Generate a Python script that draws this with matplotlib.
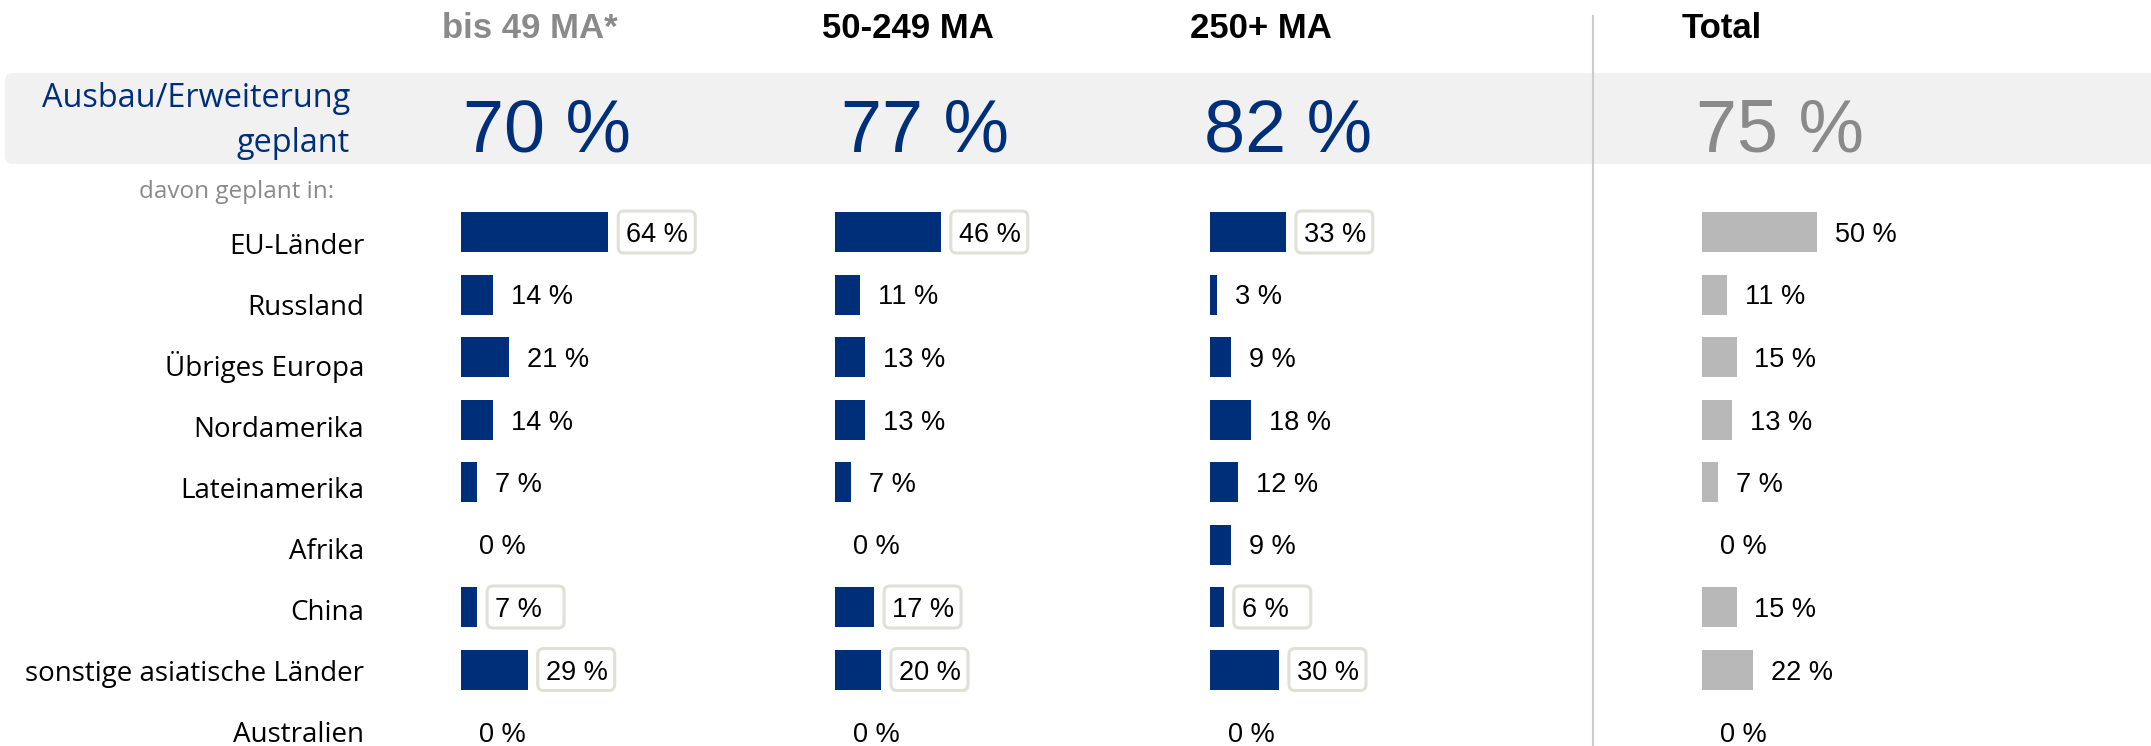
import matplotlib
matplotlib.use("Agg")
import matplotlib.pyplot as plt
from matplotlib.patches import FancyBboxPatch
import numpy as np

# Data
groups = ["bis 49 MA*", "50-249 MA", "250+ MA", "Total"]
headline = [70, 77, 82, 75]
categories = ["EU-Länder", "Russland", "Übriges Europa", "Nordamerika",
              "Lateinamerika", "Afrika", "China",
              "sonstige asiatische Länder", "Australien"]
small = [64, 14, 21, 14, 7, 0, 7, 29, 0]
medium = [46, 11, 13, 13, 7, 0, 17, 20, 0]
large = [33, 3, 9, 18, 12, 9, 6, 30, 0]
total = [50, 11, 15, 13, 7, 0, 15, 22, 0]
boxed = ["EU-Länder", "China", "sonstige asiatische Länder"]

NAVY = "#002f7a"
GREY_BAR = "#b8b8b8"
GREY_TXT = "#8a8a8a"
BAND = "#f1f1f1"
BOX_EDGE = "#e0e0d6"

SANS = ["Liberation Sans", "DejaVu Sans"]
LABEL_FONT = ["Open Sans", "DejaVu Sans"]


def main():
    W, H = 2151, 746
    fig = plt.figure(figsize=(W / 100, H / 100), dpi=100)
    ax = fig.add_axes([0, 0, 1, 1])
    ax.set_xlim(0, W)
    ax.set_ylim(H, 0)
    ax.axis("off")

    # layout (pixels)
    starts = [461, 835, 1210, 1702]
    head_x = [442, 822, 1190, 1682]
    big_x = [463, 841, 1204, 1696]
    px_per_pct = 2.3
    rows = 232 + 62.5 * np.arange(len(categories))
    label_rows = 245 + 61 * np.arange(len(categories))

    # grey band
    band = FancyBboxPatch((5, 73), W + 20, 91,
                          boxstyle="round,pad=0,rounding_size=8",
                          facecolor=BAND, edgecolor="none", zorder=0)
    ax.add_patch(band)

    # divider before Total
    ax.plot([1593, 1593], [16, H], color="#cccccc", lw=1.5, zorder=1)

    # headers
    for i, g in enumerate(groups):
        ax.text(head_x[i], 38, g, ha="left", va="baseline",
                fontsize=25, fontweight="bold", family=SANS,
                color=GREY_TXT if i == 0 else "black")

    # headline numbers
    for i, v in enumerate(headline):
        ax.text(big_x[i], 152, f"{v} %", ha="left", va="baseline",
                fontsize=53, family=SANS,
                color=GREY_TXT if i == 3 else NAVY, zorder=2)

    ax.text(350, 107, "Ausbau/Erweiterung", ha="right", va="baseline",
            fontsize=23.4, family=LABEL_FONT, color=NAVY)
    ax.text(350, 152, "geplant", ha="right", va="baseline",
            fontsize=23.4, family=LABEL_FONT, color=NAVY)
    ax.text(334, 198, "davon geplant in:", ha="right", va="baseline",
            fontsize=17.5, family=LABEL_FONT, color=GREY_TXT)

    # row labels
    for y, c in zip(label_rows, categories):
        ax.text(364, y + 9, c, ha="right", va="baseline",
                fontsize=20, family=LABEL_FONT, color="black")

    # bars
    series = [small, medium, large, total]
    for gi, vals in enumerate(series):
        vals = np.array(vals)
        color = GREY_BAR if gi == 3 else NAVY
        ax.barh(rows, vals * px_per_pct, left=starts[gi], height=40,
                color=color, zorder=2)
        for y, v, c in zip(rows, vals, categories):
            end = starts[gi] + v * px_per_pct
            if gi < 3 and c in boxed:
                box = FancyBboxPatch((end + 10, y - 21), 77, 42,
                                     boxstyle="round,pad=0,rounding_size=6",
                                     facecolor="white", edgecolor=BOX_EDGE,
                                     lw=2.2, zorder=3)
                ax.add_patch(box)
            ax.text(end + 18, y + 10, f"{v} %", ha="left", va="baseline",
                    fontsize=19.5, family=SANS, zorder=4)

    fig.savefig("out.png", dpi=100)


if __name__ == "__main__":
    main()
